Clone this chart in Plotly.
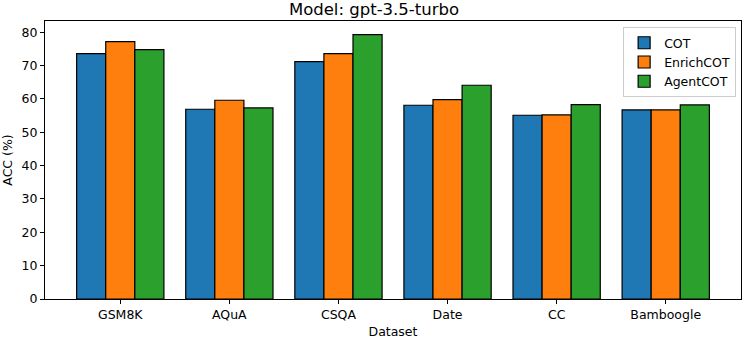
import plotly.graph_objects as go

datasets = ["GSM8K", "AQuA", "CSQA", "Date", "CC", "Bamboogle"]
cot = [73.6, 56.9, 71.2, 58.1, 55.1, 56.7]
enrich_cot = [77.2, 59.6, 73.6, 59.8, 55.2, 56.7]
agent_cot = [74.8, 57.3, 79.3, 64.1, 58.3, 58.2]

series = [
    ("COT", cot, "#1f77b4"),
    ("EnrichCOT", enrich_cot, "#ff7f0e"),
    ("AgentCOT", agent_cot, "#2ca02c"),
]

font = "DejaVu Sans"
fig = go.Figure()
for name, vals, col in series:
    fig.add_trace(go.Bar(
        x=list(range(len(datasets))), y=vals, name=name,
        marker=dict(color=col, line=dict(color="black", width=1.2)),
    ))

fig.update_layout(
    width=748, height=342,
    margin=dict(l=45, r=7, t=21, b=43),
    barmode="group", bargap=0.2, bargroupgap=0,
    plot_bgcolor="white", paper_bgcolor="white",
    font=dict(family=font, size=12.5, color="black"),
    # suptitle style: centred on the whole figure, not the axes
    title=dict(text="Model: gpt-3.5-turbo", x=0.5, xanchor="center",
               y=0.972, yanchor="middle", font=dict(size=16.5)),
    legend=dict(x=0.993, y=0.978, xanchor="right", yanchor="top",
                bordercolor="#cccccc", borderwidth=1, bgcolor="rgba(255,255,255,0.8)",
                font=dict(size=12.5), tracegroupgap=0),
    xaxis=dict(
        tickmode="array", tickvals=list(range(len(datasets))), ticktext=datasets,
        range=[-0.69, 5.69], showline=True, linecolor="black", linewidth=1,
        mirror=True, ticks="outside", ticklen=4, tickcolor="black",
        showgrid=False, zeroline=False, automargin=False,
        title=dict(text="Dataset", standoff=6, font=dict(size=12.5)),
    ),
    yaxis=dict(
        range=[0, 83.37], dtick=10, showline=True, linecolor="black", linewidth=1,
        mirror=True, ticks="outside", ticklen=4, tickcolor="black",
        showgrid=False, zeroline=False, automargin=False,
        title=dict(text="ACC (%)", standoff=6, font=dict(size=12.5)),
    ),
)

# page body has a default 8px margin, drop it so the figure sits at 0,0
fig.write_html("out.html", config={"displayModeBar": False},
               post_script="document.body.style.margin='0';")
